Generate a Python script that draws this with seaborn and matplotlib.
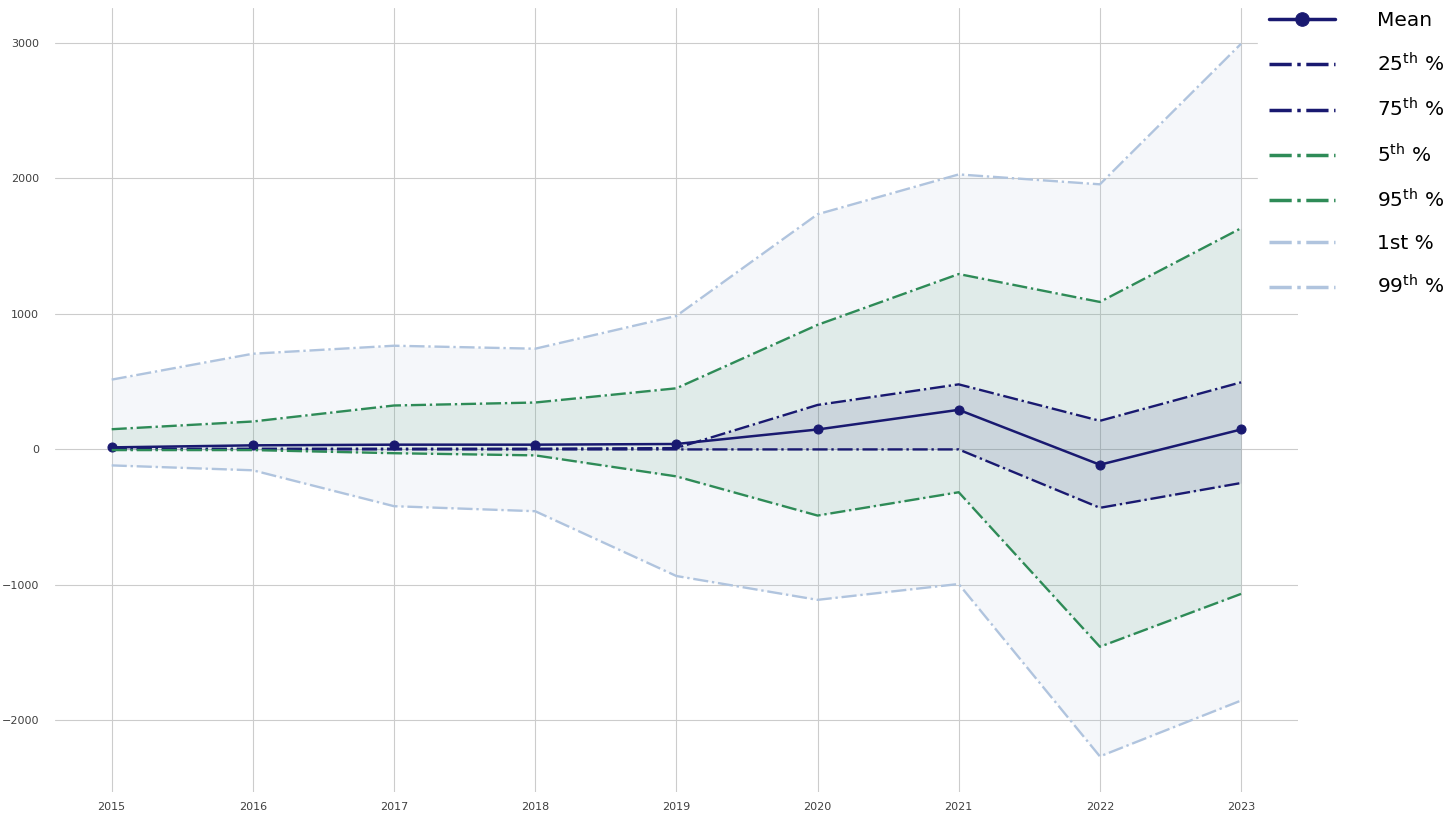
import matplotlib.pyplot as plt
import numpy as np
import pandas as pd
import seaborn as sns

# data
years = [2015, 2016, 2017, 2018, 2019, 2020, 2021, 2022, 2023]
mean_vals = [15, 30, 35, 35, 40, 147, 292, -113, 147]
p25 = [0, 0, 0, 0, 0, 0, 0, -431, -248]
p75 = [5, 5, 5, 5, 10, 328, 480, 211, 495]
p5 = [-5, -5, -28, -44, -199, -488, -316, -1456, -1066]
p95 = [149, 206, 324, 346, 451, 919, 1294, 1088, 1632]
p1 = [-118, -154, -419, -456, -934, -1110, -993, -2265, -1853]
p99 = [515, 706, 765, 743, 985, 1735, 2029, 1956, 2993]

NAVY = '#191970'
GREEN = '#2E8B57'
LIGHT = '#B0C4DE'

sns.set_style("whitegrid")
plt.rcParams['font.family'] = ['DejaVu Sans']
plt.rcParams['mathtext.default'] = 'regular'

fig, ax = plt.subplots(figsize=(14.53, 8.14), dpi=100)
fig.subplots_adjust(left=0.038, right=0.893, top=0.99, bottom=0.027)

df = pd.DataFrame({'year': years, 'mean': mean_vals, 'p25': p25, 'p75': p75,
                   'p5': p5, 'p95': p95, 'p1': p1, 'p99': p99})

# shaded bands
ax.fill_between(df['year'], df['p1'], df['p99'], color=LIGHT, alpha=0.12, lw=0)
ax.fill_between(df['year'], df['p5'], df['p95'], color=GREEN, alpha=0.1, lw=0)
ax.fill_between(df['year'], df['p25'], df['p75'], color=NAVY, alpha=0.1, lw=0)

sns.lineplot(data=df, x='year', y='mean', color=NAVY, lw=1.8, marker='o', markersize=6.5,
             markeredgecolor=NAVY, label='Mean', ax=ax)
sns.lineplot(data=df, x='year', y='p25', color=NAVY, lw=1.7, ls='-.', label='25$^{th}$ %', ax=ax)
sns.lineplot(data=df, x='year', y='p75', color=NAVY, lw=1.7, ls='-.', label='75$^{th}$ %', ax=ax)
sns.lineplot(data=df, x='year', y='p5', color=GREEN, lw=1.7, ls='-.', label='5$^{th}$ %', ax=ax)
sns.lineplot(data=df, x='year', y='p95', color=GREEN, lw=1.7, ls='-.', label='95$^{th}$ %', ax=ax)
sns.lineplot(data=df, x='year', y='p1', color=LIGHT, lw=1.7, ls='-.', label='1st %', ax=ax)
sns.lineplot(data=df, x='year', y='p99', color=LIGHT, lw=1.7, ls='-.', label='99$^{th}$ %', ax=ax)

ax.set_xticks(years)
ax.set_yticks([-2000, -1000, 0, 1000, 2000, 3000])
ax.set_xlabel('')
ax.set_ylabel('')
ax.tick_params(axis='both', labelsize=8, colors='.25')
ax.tick_params(axis='x', pad=4)
ax.tick_params(axis='y', pad=8)
for s in ax.spines.values():
    s.set_visible(False)

leg = ax.legend(loc='upper left', bbox_to_anchor=(0.866, 1.0), bbox_transform=fig.transFigure,
                fontsize=14.5, frameon=True, facecolor='white', edgecolor='white', framealpha=1,
                handlelength=3.25, handletextpad=2.1, labelspacing=1.1, borderaxespad=0,
                borderpad=0.55, markerscale=1.5)
for line in leg.get_lines():
    line.set_linewidth(2.5)
for t in leg.get_texts():
    t.set_color('black')

plt.savefig('out.png', dpi=100)
